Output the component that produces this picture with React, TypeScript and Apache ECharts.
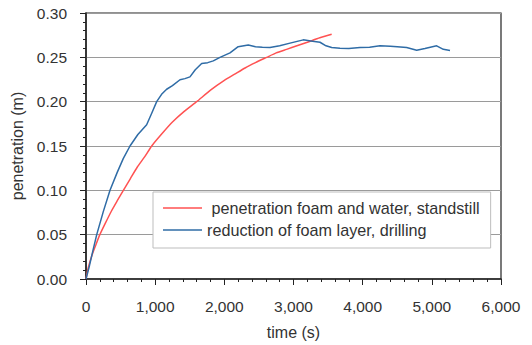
import React, { useEffect, useRef } from "react";
import * as echarts from "echarts";

const redName = " penetration foam and water, standstill";
const blueName = "reduction of foam layer, drilling";

const redTime = [0, 30, 83, 140, 200, 280, 370, 450, 540, 640, 740, 850, 950, 1100, 1250, 1420, 1600, 1800, 2000, 2150, 2300, 2450, 2613, 2750, 2900, 3050, 3200, 3380, 3552];
const redPen = [0, 0.012, 0.026, 0.038, 0.05, 0.063, 0.077, 0.088, 0.1, 0.113, 0.126, 0.138, 0.15, 0.164, 0.177, 0.189, 0.2, 0.213, 0.224, 0.231, 0.238, 0.244, 0.25, 0.255, 0.259, 0.263, 0.267, 0.272, 0.276];

const blueTime = [0, 50, 100, 155, 250, 347, 450, 540, 636, 750, 877, 950, 1022, 1100, 1166, 1250, 1359, 1430, 1503, 1580, 1672, 1760, 1840, 1937, 2082, 2200, 2346, 2450, 2550, 2660, 2800, 2950, 3141, 3250, 3383, 3470, 3552, 3672, 3800, 3961, 4100, 4250, 4400, 4500, 4636, 4781, 4900, 5070, 5166, 5263];
const bluePen = [0, 0.015, 0.032, 0.05, 0.076, 0.1, 0.12, 0.136, 0.15, 0.163, 0.174, 0.187, 0.2, 0.209, 0.214, 0.218, 0.2247, 0.226, 0.228, 0.236, 0.243, 0.244, 0.246, 0.25, 0.255, 0.262, 0.264, 0.262, 0.2615, 0.261, 0.263, 0.266, 0.2697, 0.2685, 0.267, 0.263, 0.261, 0.2603, 0.26, 0.261, 0.2615, 0.263, 0.2625, 0.262, 0.261, 0.258, 0.26, 0.263, 0.259, 0.2577];

const xTicks = { min: 0, max: 6000, interval: 1000 };
const yTicks = { min: 0, max: 0.3, interval: 0.05 };

export default function App() {
  const ref = useRef<HTMLDivElement>(null);
  useEffect(() => {
    if (!ref.current) return;
    const chart = echarts.init(ref.current, undefined, { renderer: "svg" });
    const font = "Liberation Sans, Arial, sans-serif";
    const axisColor = "#222";
    const lineIcon = "path://M0,0H40V1.6H0Z";
    chart.setOption({
      animation: false,
      textStyle: { fontFamily: font },
      grid: {
        left: 86,
        right: 31,
        top: 13,
        bottom: 65,
        show: true,
        borderColor: axisColor,
        borderWidth: 1.2,
      },
      legend: {
        orient: "vertical",
        left: 153,
        top: 192,
        padding: [8, 11, 10, 10],
        itemWidth: 39,
        itemHeight: 16,
        itemGap: 6,
        backgroundColor: "#fff",
        borderColor: "#bdbdbd",
        borderWidth: 1,
        textStyle: { fontSize: 16.2, color: "#333", fontFamily: font },
        data: [
          { name: redName, icon: lineIcon },
          { name: blueName, icon: lineIcon },
        ],
      },
      xAxis: {
        type: "value",
        ...xTicks,
        name: "time (s)",
        nameLocation: "middle",
        nameGap: 45,
        nameTextStyle: { fontSize: 16, color: "#333", fontFamily: font },
        axisLine: { show: true, lineStyle: { color: axisColor, width: 1.5 } },
        axisTick: { show: true, length: 6, lineStyle: { color: axisColor } },
        minorTick: { show: true, splitNumber: 5, length: 3, lineStyle: { color: axisColor } },
        axisLabel: {
          fontSize: 15.5,
          color: "#333",
          margin: 19,
          formatter: (v: number) => v.toLocaleString("en-US"),
        },
        splitLine: { show: false },
      },
      yAxis: {
        type: "value",
        ...yTicks,
        name: "penetration (m)",
        nameLocation: "middle",
        nameGap: 61,
        nameTextStyle: { fontSize: 16, color: "#333", fontFamily: font },
        axisLine: { show: true, lineStyle: { color: axisColor, width: 1.5 } },
        axisTick: { show: true, length: 6, lineStyle: { color: axisColor } },
        minorTick: { show: true, splitNumber: 5, length: 3, lineStyle: { color: axisColor } },
        axisLabel: {
          fontSize: 15.5,
          color: "#333",
          margin: 19,
          formatter: (v: number) => v.toFixed(2),
        },
        splitLine: { show: true, lineStyle: { color: "#9a9a9a", width: 1 } },
      },
      series: [
        {
          name: redName,
          type: "line",
          data: redTime.map((t, i) => [t, redPen[i]]),
          symbol: "none",
          smooth: 0.2,
          lineStyle: { color: "#ff5252", width: 1.5 },
          itemStyle: { color: "#ff5252" },
        },
        {
          name: blueName,
          type: "line",
          data: blueTime.map((t, i) => [t, bluePen[i]]),
          symbol: "none",
          lineStyle: { color: "#2f6ca6", width: 1.5 },
          itemStyle: { color: "#2f6ca6" },
        },
      ],
    });
    return () => chart.dispose();
  }, []);
  return (
    <div
      ref={ref}
      style={{ position: "fixed", left: 0, top: 0, width: 532, height: 345, background: "#fff" }}
    />
  );
}
